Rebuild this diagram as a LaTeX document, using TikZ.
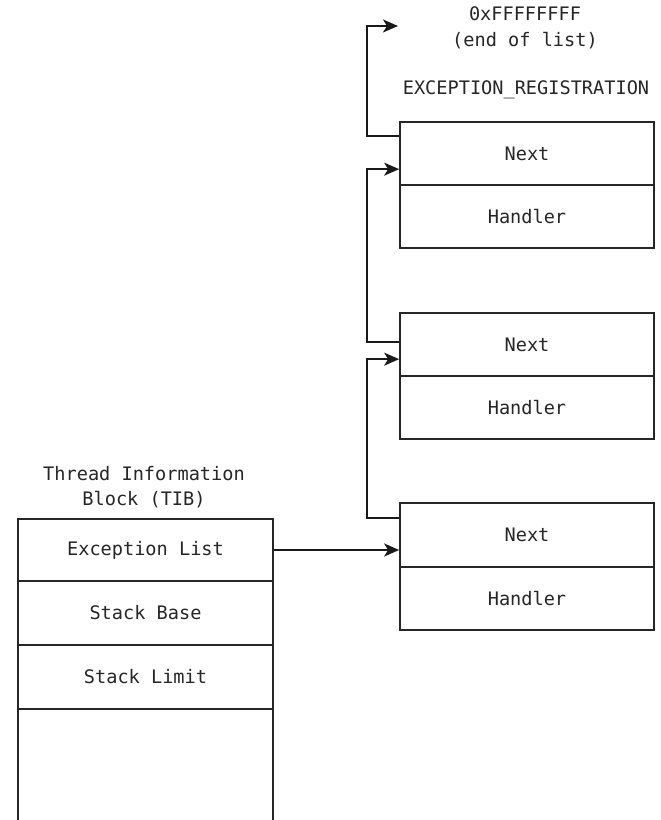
\documentclass[tikz,border=0pt]{standalone}
\usepackage{fontspec}
\setmonofont{DejaVu Sans Mono}
\usetikzlibrary{arrows.meta}
\begin{document}
\begin{tikzpicture}[x=1pt,y=-1pt,
  every node/.style={font=\ttfamily\fontsize{18.6}{25.5}\selectfont, text=black!85},
  cell/.style={draw=black!85, line width=1.7pt, rectangle, inner sep=0pt, minimum width=254pt},
  lbl/.style={align=center, inner sep=0pt},
  conn/.style={draw=black!90, line width=1.8pt, -{Stealth[length=15pt,width=13pt,inset=4pt]}}]
\useasboundingbox (0,0) rectangle (661,820);
% EXCEPTION_REGISTRATION records
\node[cell, minimum height=63pt] (n1) at (527,153.5) {Next};
\node[cell, minimum height=63pt] (h1) at (527,216.5) {Handler};
\node[cell, minimum height=63pt] (n2) at (527,344.5) {Next};
\node[cell, minimum height=63pt] (h2) at (527,407.5) {Handler};
\node[cell, minimum height=64pt] (n3) at (527,535) {Next};
\node[cell, minimum height=63pt] (h3) at (527,598.5) {Handler};
% TIB
\node[cell, minimum width=255pt, minimum height=62pt] (el) at (145.5,550) {Exception List};
\node[cell, minimum width=255pt, minimum height=64pt] (sb) at (145.5,613) {Stack Base};
\node[cell, minimum width=255pt, minimum height=64pt] (sl) at (145.5,677) {Stack Limit};
\node[cell, minimum width=255pt, minimum height=121pt] (rest) at (145.5,769.5) {};
% labels
\node[lbl] (endl) at (525,28) {0xFFFFFFFF\\(end of list)};
\node[lbl] (ertitle) at (526,90) {EXCEPTION\_REGISTRATION};
\node[lbl] (tibtitle) at (144,487) {Thread Information\\Block (TIB)};
\coordinate (endc) at (398,26);
% connectors
\draw[conn] ([yshift=-15pt]n1.north west) -- ++(-32,0) |- (endc);
\draw[conn] ([yshift=-30pt]n2.north west) -- ++(-32,0) |- ([yshift=-48pt]n1.north west);
\draw[conn] ([yshift=-16pt]n3.north west) -- ++(-32,0) |- ([yshift=-47pt]n2.north west);
\draw[conn] (el.east) -- (el.east -| n3.west);
\end{tikzpicture}
\end{document}
